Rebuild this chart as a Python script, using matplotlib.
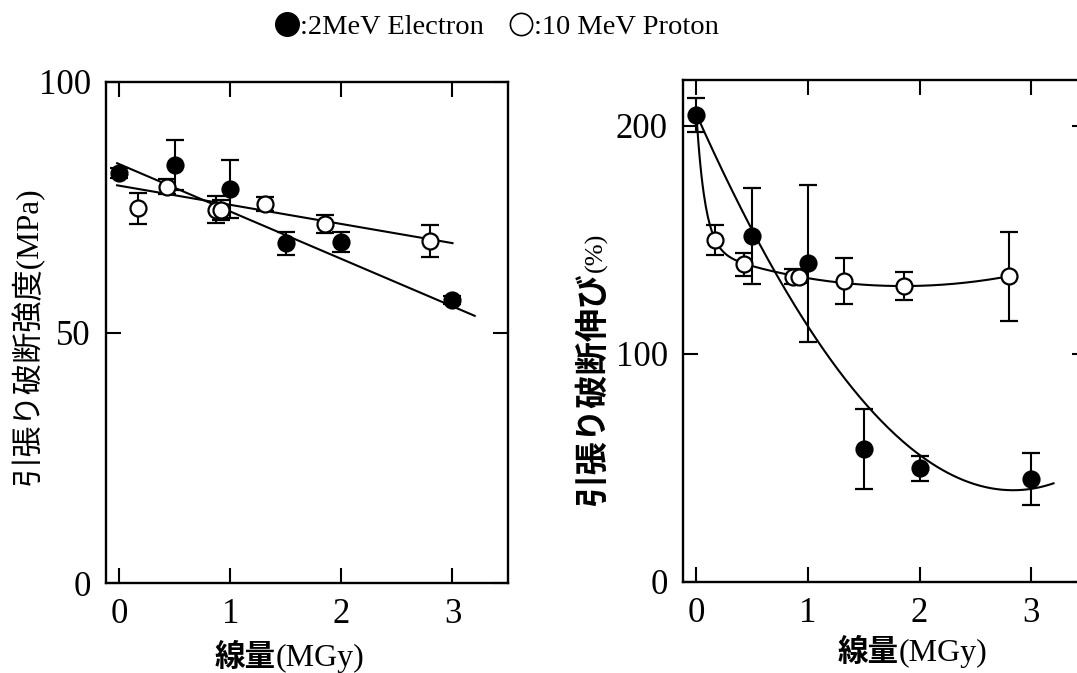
import numpy as np
import matplotlib
matplotlib.use("Agg")
import matplotlib.pyplot as plt
from matplotlib.lines import Line2D

plt.rcParams['font.family'] = ['Liberation Serif', 'Noto Sans CJK JP']

# tensile strength (MPa)
str_e_dose = [0.0, 0.5, 1.0, 1.5, 2.0, 3.0]
str_e_val = [81.8, 83.4, 78.7, 67.8, 68.1, 56.5]
str_e_err = [1.0, 5.0, 5.8, 2.3, 2.0, 0.8]
str_p_dose = [0.17, 0.43, 0.87, 0.92, 1.31, 1.85, 2.80]
str_p_val = [74.8, 79.1, 74.5, 74.5, 75.7, 71.7, 68.3]
str_p_err = [3.1, 1.5, 2.7, 2.0, 1.4, 1.8, 3.2]

# linear fits: intercept, slope
str_e_fit = [83.6, -9.46]
str_p_fit = [79.3, -3.82]

# elongation at break (%)
elo_e_dose = [0.0, 0.5, 1.0, 1.5, 2.0, 3.0]
elo_e_val = [204.8, 151.6, 139.6, 58.3, 49.9, 45.1]
elo_e_err = [7.5, 21.0, 34.6, 17.5, 5.5, 11.3]
elo_p_dose = [0.17, 0.43, 0.87, 0.92, 1.32, 1.86, 2.80]
elo_p_val = [149.8, 139.3, 133.7, 133.7, 132.0, 129.7, 134.0]
elo_p_err = [6.6, 5.0, 3.3, 2.5, 10.0, 6.0, 19.5]

# cubic fit for electrons, c0..c3
elo_e_fit = [205.0, -109.76, 15.96, 0.795]
# proton curve: base + k*(x - x0)^2 + a*exp(-x/tau)
elo_p_fit = dict(base=129.7, k=4.76, x0=1.85, a=59.0, tau=0.078)

W, H = 1077, 673
fig = plt.figure(figsize=(W / 100, H / 100), dpi=100)

ax1 = fig.add_axes([106 / W, 1 - 583 / H, 402 / W, 501 / H])
ax2 = fig.add_axes([683 / W, 1 - 582 / H, 404 / W, 502 / H])

ebar = dict(fmt='o', color='black', ms=11.5, mew=1.6, capsize=6.5,
            elinewidth=1.5, capthick=1.5, zorder=3)

# left: strength
xe = np.linspace(-0.02, 3.2, 50)
ax1.plot(xe, str_e_fit[0] + str_e_fit[1] * xe, color='black', lw=1.5, zorder=2)
xp = np.linspace(-0.02, 3.0, 50)
ax1.plot(xp, str_p_fit[0] + str_p_fit[1] * xp, color='black', lw=1.5, zorder=2)
ax1.errorbar(str_p_dose, str_p_val, yerr=str_p_err, mfc='white', **ebar)
ax1.errorbar(str_e_dose, str_e_val, yerr=str_e_err, mfc='black', **ebar)
ax1.set_ylim(0, 100)
ax1.set_yticks([0, 50, 100])

# right: elongation
xe = np.linspace(0, 3.2, 200)
ax2.plot(xe, np.polyval(elo_e_fit[::-1], xe), color='black', lw=1.5, zorder=2)
xp = np.linspace(0, 2.8, 300)
f = elo_p_fit
ax2.plot(xp, f['base'] + f['k'] * (xp - f['x0']) ** 2 + f['a'] * np.exp(-xp / f['tau']),
         color='black', lw=1.5, zorder=2)
ax2.errorbar(elo_p_dose, elo_p_val, yerr=elo_p_err, mfc='white', **ebar)
ax2.errorbar(elo_e_dose, elo_e_val, yerr=elo_e_err, mfc='black', **ebar)
ax2.set_ylim(0, 220)
ax2.set_yticks([0, 100, 200])

for ax in (ax1, ax2):
    ax.set_xlim(-0.12, 3.5)
    ax.set_xticks([0, 1, 2, 3])
    ax.tick_params(direction='in', top=True, right=True, length=10.5, width=1.5,
                   labelsize=25, pad=11)
    for sp in ax.spines.values():
        sp.set_linewidth(1.7)

# axis labels
fig.text(27 / W, 1 - 336 / H, '引張り破断強度(MPa)', rotation=90, fontsize=22.5,
         ha='center', va='center')
fig.text(593 / W, 1 - 272 / H, '引張り破断伸び', rotation=90, fontsize=24,
         fontweight='bold', family='Noto Sans CJK JP', ha='center', va='top')
fig.text(596 / W, 1 - 272 / H, '(%)', rotation=90, fontsize=19,
         ha='center', va='bottom')

for xm, ym in ((276, 657), (899, 652)):
    fig.text(xm / W, 1 - ym / H, '線量', fontsize=22, fontweight='bold',
             family='Noto Sans CJK JP', ha='right', va='center')
    fig.text(xm / W, 1 - (ym + 1) / H, '(MGy)', fontsize=23, ha='left', va='center')

handles = [Line2D([], [], ls='none', marker='o', color='black', mfc='black', ms=17),
           Line2D([], [], ls='none', marker='o', color='black', mfc='white', ms=16, mew=1.2)]
fig.legend(handles, [':2MeV Electron', ':10 MeV Proton'], ncol=2, loc='center',
           bbox_to_anchor=(497 / W, 1 - 27 / H), frameon=False, fontsize=20.5,
           handlelength=0.8, handletextpad=0.05, columnspacing=0.9)

fig.savefig('out.png', dpi=100)
